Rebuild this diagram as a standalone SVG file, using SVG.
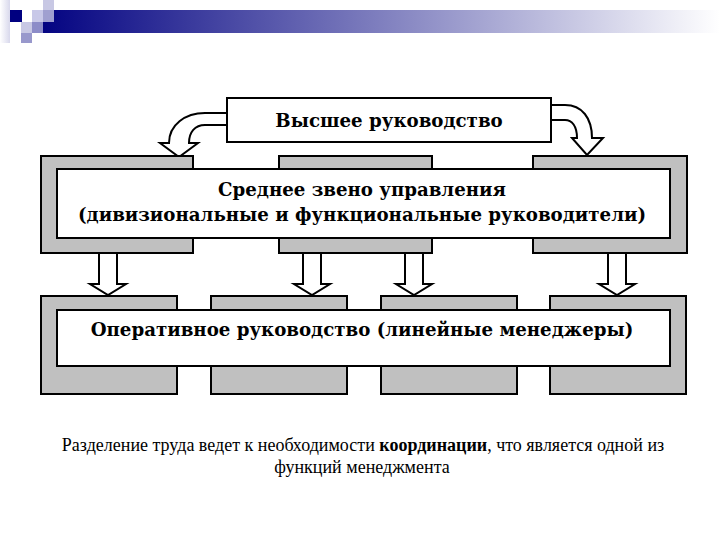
<svg xmlns="http://www.w3.org/2000/svg" width="720" height="540" viewBox="0 0 720 540">
<defs>
<linearGradient id="bar" x1="0" y1="0" x2="1" y2="0">
<stop offset="0" stop-color="#000080"/>
<stop offset="0.55" stop-color="#8a8ac4"/>
<stop offset="1" stop-color="#ffffff"/>
</linearGradient>
<linearGradient id="edge" x1="0" y1="0" x2="1" y2="0">
<stop offset="0" stop-color="#ffffff"/>
<stop offset="1" stop-color="#d8d8ec"/>
</linearGradient>
<style>
.gray{fill:#c0c0c0;stroke:#000;stroke-width:2}
.box{fill:#fff;stroke:#000;stroke-width:2}
.arr{fill:#fff;stroke:#000;stroke-width:2;stroke-linejoin:miter}
.t{font-family:"DejaVu Serif","Liberation Serif",serif;font-weight:bold;font-size:18.2px;fill:#000;text-anchor:middle}
.n{font-family:"Liberation Serif",serif;font-size:18px;fill:#000;text-anchor:middle}
</style>
</defs>
<rect width="720" height="540" fill="#fff"/>
<g id="decor">
<rect x="0" y="0" width="10" height="43" fill="url(#edge)"/>
<rect x="32" y="10" width="688" height="23" fill="url(#bar)"/>
<rect x="10" y="10" width="12" height="12" fill="#000080"/>
<rect x="43" y="0" width="11" height="10" fill="#c8c8e4"/>
<rect x="32" y="10" width="11" height="12" fill="#c8c8e8"/>
<rect x="43" y="10" width="11" height="12" fill="#a0a0d0"/>
<rect x="21" y="22" width="11" height="11" fill="#c8c8e4"/>
<rect x="32" y="22" width="11" height="11" fill="#8c8cc8"/>
<rect x="21" y="33" width="11" height="10" fill="#9898cc"/>
</g>
<g id="connectors">
<path class="arr" d="M227,113 L205,113 C185,113 169,125 169,143 L160,143 L179,157 L198,143 L189,143 C189,132 195,125 205,125 L227,125 Z"/>
<path class="arr" d="M551,105 L565,105 C582,105 592,118 592,138 L603,138 L587,155 L572,138 L577,138 C577,126 572,120 565,120 L551,120 Z"/>
<path class="arr" d="M99,254 L99,284 L90,284 L108,295 L126,284 L117,284 L117,254"/>
<path class="arr" d="M303,254 L303,284 L294,284 L312,295 L330,284 L321,284 L321,254"/>
<path class="arr" d="M405,254 L405,284 L396,284 L414,295 L432,284 L423,284 L423,254"/>
<path class="arr" d="M608,254 L608,284 L599,284 L617,295 L635,284 L626,284 L626,254"/>
</g>
<g id="top">
<rect class="box" x="227" y="98" width="324" height="44"/>
<text class="t" x="389" y="127">Высшее руководство</text>
</g>
<g id="middle">
<rect class="gray" x="41" y="156" width="152" height="97"/>
<rect class="gray" x="279" y="156" width="153" height="97"/>
<rect class="gray" x="533" y="156" width="154" height="97"/>
<rect class="box" x="57" y="169" width="613" height="69"/>
<text class="t" x="362" y="196">Среднее звено управления</text>
<text class="t" x="362" y="221">(дивизиональные и функциональные руководители)</text>
</g>
<g id="bottom">
<rect class="gray" x="41" y="296" width="136" height="98"/>
<rect class="gray" x="211" y="296" width="136" height="98"/>
<rect class="gray" x="381" y="296" width="136" height="98"/>
<rect class="gray" x="550" y="296" width="136" height="98"/>
<rect class="box" x="57" y="310" width="613" height="56"/>
<text class="t" x="362" y="336">Оперативное руководство (линейные менеджеры)</text>
</g>
<g id="caption">
<text class="n" x="363" y="451">Разделение труда ведет к необходимости <tspan font-weight="bold">координации</tspan>, что является одной из</text>
<text class="n" x="362" y="473">функций менеджмента</text>
</g>
</svg>
